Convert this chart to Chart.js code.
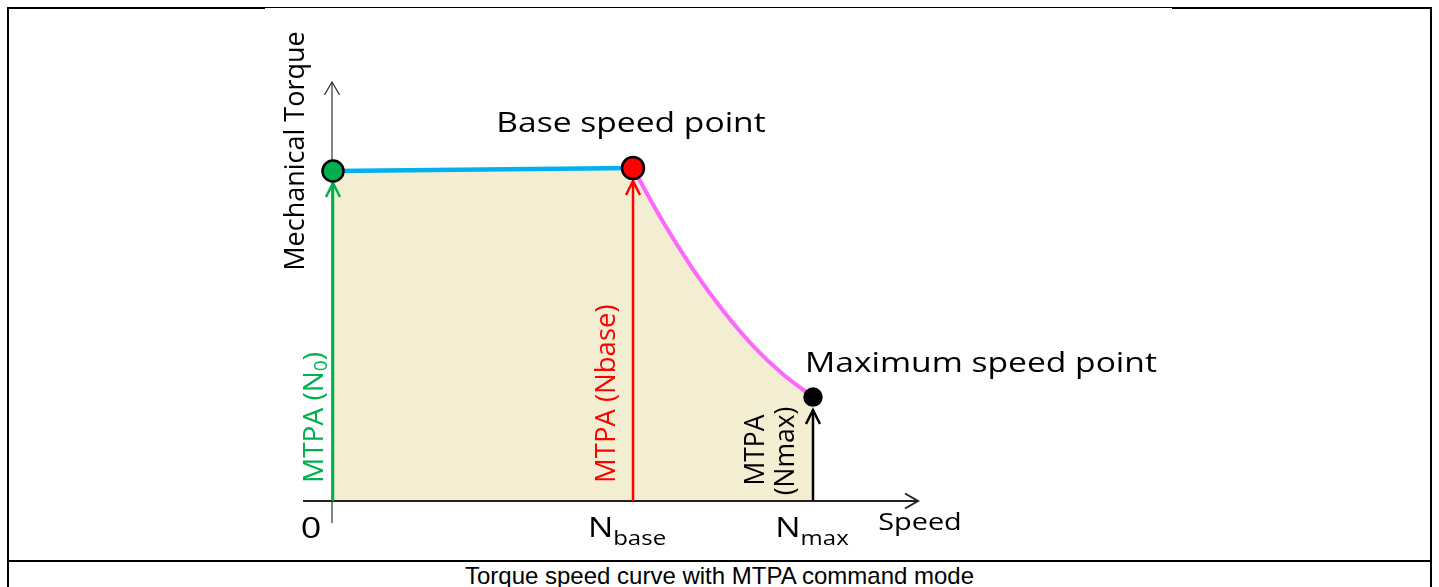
<!DOCTYPE html>
<html>
<head>
<meta charset="utf-8">
<title>Torque speed curve with MTPA command mode</title>
<script src="https://cdn.jsdelivr.net/npm/chart.js@4.4.1/dist/chart.umd.min.js"></script>
<style>
  body { margin: 0; background: #fff; width: 1439px; height: 587px; overflow: hidden; }
  #frame { position: absolute; left: 7px; top: 7px; width: 1425px; height: 640px; border: 2px solid #000; box-sizing: border-box; }
  #gap { position: absolute; left: 265px; top: 8px; width: 907px; height: 1px; background: #fff; }
  #caption { position: absolute; left: 7px; top: 560px; width: 1425px; border-top: 2px solid #000; font: 24px "Liberation Sans", Arial, sans-serif; text-align: center; color: #000; }
  #wrap { position: absolute; left: 0; top: 0; width: 1439px; height: 587px; }
</style>
</head>
<body>
<div id="frame"></div>
<div id="gap"></div>
<div id="caption">Torque speed curve with MTPA command mode</div>
<div id="wrap"><canvas id="torqueChart"></canvas></div>
<script>
// speed in units of N_base, torque in units of rated torque
const speedFlat = [0, 1];
const torqueFlat = [1, 1.009];
const speedCurve = [1, 1.1, 1.2, 1.3, 1.4, 1.5, 1.6];
const torqueCurve = [1.009, 0.846, 0.702, 0.577, 0.47, 0.384, 0.315];

// operating points: N0, Nbase, Nmax
const pointSpeed = [0, 1, 1.6];
const pointTorque = [1, 1.009, 0.315];
const pointColors = ["#00b050", "#ff0000", "#000000"];
const pointSizes = [10.5, 11, 8.5];

const tickMain = ["0", "N", "N"];
const tickSub = ["", "base", "max"];

const FONT = '"Open Sans", "DejaVu Sans", sans-serif';
const SX = 1.2; // horizontal text in the figure is a bit stretched

function toXY(xs, ys) {
  return xs.map(function (x, i) { return { x: x, y: ys[i] }; });
}

function text(c, str, x, y, size, opts) {
  opts = opts || {};
  c.save();
  c.translate(x, y);
  if (opts.rotate) c.rotate(-Math.PI / 2);
  else c.scale(SX, 1);
  c.font = size + "px " + FONT;
  c.fillStyle = opts.color || "#000";
  c.textAlign = opts.align || "left";
  c.textBaseline = "alphabetic";
  c.fillText(str, 0, 0);
  c.restore();
}

// N with subscript, centred on cx
function subLabel(c, main, sub, cx, base) {
  c.save();
  c.font = "28px " + FONT;
  const w1 = c.measureText(main).width;
  c.font = "20px " + FONT;
  const w2 = c.measureText(sub).width;
  c.restore();
  const left = cx - (w1 + w2) * SX / 2;
  text(c, main, left, base, 28);
  if (sub) text(c, sub, left + w1 * SX, base + 8, 20);
}

const sketch = {
  id: "sketch",
  beforeDatasetsDraw: function (chart) {
    const c = chart.ctx;
    const xs = chart.scales.x, ys = chart.scales.y;
    const x0 = xs.getPixelForValue(0), y0 = ys.getPixelForValue(0);
    c.save();
    // torque axis
    c.strokeStyle = "#333";
    c.lineWidth = 1.2;
    const yTop = ys.getPixelForValue(1.27);
    c.beginPath();
    c.moveTo(x0 - 1, y0 + 22);
    c.lineTo(x0 - 1, yTop);
    c.stroke();
    c.beginPath();
    c.moveTo(x0 - 8.5, yTop + 13);
    c.lineTo(x0 - 1, yTop);
    c.lineTo(x0 + 6.5, yTop + 13);
    c.stroke();
    // speed axis
    c.strokeStyle = "#222";
    c.lineWidth = 2;
    const xEnd = xs.getPixelForValue(1.95);
    c.beginPath();
    c.moveTo(xs.getPixelForValue(-0.1), y0);
    c.lineTo(xEnd, y0);
    c.stroke();
    c.beginPath();
    c.moveTo(xEnd - 13, y0 - 7.5);
    c.lineTo(xEnd, y0);
    c.lineTo(xEnd - 13, y0 + 7.5);
    c.stroke();
    // MTPA command arrows
    const gaps = [12, 13, 13];
    c.lineWidth = 2.5;
    pointSpeed.forEach(function (s, i) {
      const px = xs.getPixelForValue(s);
      const tip = ys.getPixelForValue(pointTorque[i]) + gaps[i];
      c.strokeStyle = pointColors[i];
      c.beginPath();
      c.moveTo(px, y0);
      c.lineTo(px, tip);
      c.stroke();
      c.beginPath();
      c.moveTo(px - 7, tip + 14);
      c.lineTo(px, tip);
      c.lineTo(px + 7, tip + 14);
      c.stroke();
    });
    c.restore();
  },
  afterDraw: function (chart) {
    const c = chart.ctx;
    const xs = chart.scales.x, ys = chart.scales.y;
    const x0 = xs.getPixelForValue(0), y0 = ys.getPixelForValue(0);
    const xb = xs.getPixelForValue(pointSpeed[1]);
    const xm = xs.getPixelForValue(pointSpeed[2]);

    text(c, "Mechanical Torque", x0 - 29, 151, 27, { rotate: true, align: "center" });
    text(c, "Speed", xs.getPixelForValue(1.95) + 2, y0 + 29, 24, { align: "center" });
    text(c, "Base speed point", xb - 2, ys.getPixelForValue(pointTorque[1]) - 36, 28, { align: "center" });
    text(c, "Maximum speed point", xm - 8, ys.getPixelForValue(pointTorque[2]) - 25, 28);

    // tick labels
    text(c, tickMain[0], x0 - 22, y0 + 37, 30, { align: "center" });
    subLabel(c, tickMain[1], tickSub[1], xb - 6, y0 + 36);
    subLabel(c, tickMain[2], tickSub[2], xm - 1, y0 + 36);

    // MTPA labels along the arrows
    c.save();
    c.translate(x0 - 10, y0 - 18);
    c.rotate(-Math.PI / 2);
    c.font = "28px " + FONT;
    c.fillStyle = pointColors[0];
    c.fillText("MTPA (N", 0, 0);
    let w = c.measureText("MTPA (N").width;
    c.font = "19px " + FONT;
    c.fillText("0", w, 4);
    w += c.measureText("0").width;
    c.font = "28px " + FONT;
    c.fillText(")", w, 0);
    c.restore();

    text(c, "MTPA (Nbase)", xb - 18, y0 - 18, 27.5, { rotate: true, color: pointColors[1] });
    text(c, "MTPA", xm - 49, 450, 26.5, { rotate: true, align: "center" });
    text(c, "(Nmax)", xm - 19, 451, 26.5, { rotate: true, align: "center" });
  }
};

const ctx = document.getElementById("torqueChart").getContext("2d");
const torqueChart = new Chart(ctx, {
  type: "line",
  data: {
    datasets: [
      {
        label: "Operating points",
        data: toXY(pointSpeed, pointTorque),
        showLine: false,
        pointRadius: pointSizes,
        pointBackgroundColor: pointColors,
        pointBorderColor: "#000",
        pointBorderWidth: 2.5,
        clip: false,
      },
      {
        label: "Constant torque",
        data: toXY(speedFlat, torqueFlat),
        borderColor: "#00b0f0",
        borderWidth: 4.5,
        pointRadius: 0,
        fill: "origin",
        backgroundColor: "#f3eed2",
        clip: false,
      },
      {
        label: "Field weakening",
        data: toXY(speedCurve, torqueCurve),
        borderColor: "#ff66ff",
        borderWidth: 4,
        pointRadius: 0,
        cubicInterpolationMode: "monotone",
        fill: "origin",
        backgroundColor: "#f3eed2",
        clip: false,
      },
    ],
  },
  options: {
    responsive: true,
    maintainAspectRatio: false,
    animation: false,
    events: [],
    layout: {
      autoPadding: false,
      padding: { left: 333, right: 506, top: 105, bottom: 86 },
    },
    scales: {
      x: { type: "linear", min: 0, max: 2, display: false },
      y: { min: 0, max: 1.2, display: false },
    },
    plugins: {
      legend: { display: false },
      tooltip: { enabled: false },
      filler: { drawTime: "beforeDatasetsDraw" },
    },
  },
  plugins: [sketch],
});
</script>
</body>
</html>
